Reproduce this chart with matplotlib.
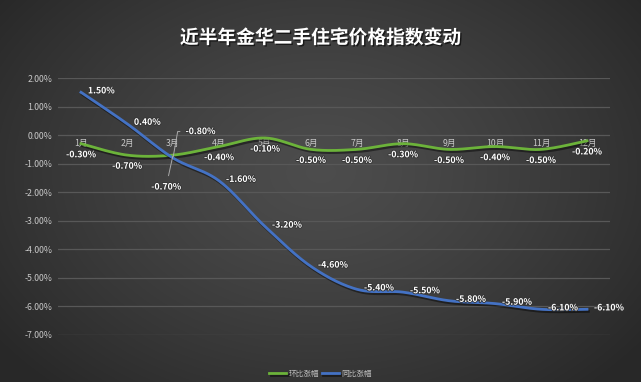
import numpy as np
import matplotlib
matplotlib.use("Agg")
import matplotlib.pyplot as plt
import matplotlib.patheffects as pe

plt.rcParams['font.family'] = ['Noto Sans CJK SC', 'DejaVu Sans']

months = ['1月', '2月', '3月', '4月', '5月', '6月', '7月', '8月', '9月', '10月', '11月', '12月']
mom = [-0.30, -0.70, -0.70, -0.40, -0.10, -0.50, -0.50, -0.30, -0.50, -0.40, -0.50, -0.20]   # 环比涨幅
yoy = [1.50, 0.40, -0.80, -1.60, -3.20, -4.60, -5.40, -5.50, -5.80, -5.90, -6.10, -6.10]      # 同比涨幅
series_names = ['环比涨幅', '同比涨幅']
yticks = [2, 1, 0, -1, -2, -3, -4, -5, -6, -7]
title = '近半年金华二手住宅价格指数变动'


def smooth(xs, ys, n=24):
    xs = np.asarray(xs, float); ys = np.asarray(ys, float)
    P = np.column_stack([xs, ys])
    P = np.vstack([P[0], P, P[-1]])
    out = []
    for i in range(1, len(P) - 2):
        p0, p1, p2, p3 = P[i - 1], P[i], P[i + 1], P[i + 2]
        t = np.linspace(0, 1, n, endpoint=False)[:, None]
        c = 0.5 * ((2 * p1) + (-p0 + p2) * t + (2 * p0 - 5 * p1 + 4 * p2 - p3) * t ** 2
                   + (-p0 + 3 * p1 - 3 * p2 + p3) * t ** 3)
        out.append(c)
    out.append(P[-2][None, :])
    out = np.vstack(out)
    return out[:, 0], out[:, 1]


W, H = 641, 382
fig = plt.figure(figsize=(W / 100, H / 100), dpi=100)

# background radial gradient
bg = fig.add_axes([0, 0, 1, 1])
yy, xx = np.mgrid[0:H, 0:W]
r = np.sqrt(((xx - W * 0.5) / (W * 0.62)) ** 2 + ((yy - H * 0.45) / (H * 0.75)) ** 2)
r = np.clip(r, 0, 1)
val = 0.30 - 0.14 * r ** 1.3
img = np.dstack([val, val, val])
bg.imshow(img, aspect='auto', extent=[0, 1, 0, 1], origin='upper')
bg.set_axis_off()

ax = fig.add_axes([58 / W, 1 - 335 / H, 552 / W, 257 / H])
ax.set_facecolor('none')
x = np.arange(len(months))
ax.set_xlim(-0.5, len(months) - 0.5)
ax.set_ylim(-7, 2)
for s in ax.spines.values():
    s.set_visible(False)
ax.set_yticks(yticks)
ax.set_yticklabels([f'{v:.2f}%' for v in yticks], color='#c8c8c8', fontsize=6.3)
ax.tick_params(axis='y', length=0, pad=4)
ax.set_xticks([])
ax.grid(False)
for v in yticks:
    ax.axhline(v, color='#585858', lw=0.9, zorder=0)

sh = [pe.SimpleLineShadow(offset=(1, -1.5), shadow_color='black', alpha=0.45), pe.Normal()]
gx, gy = smooth(x, mom)
ax.plot(gx, gy, color='#6cb33a', lw=2.0, zorder=3, path_effects=sh, label=series_names[0])
bx, by = smooth(x, yoy)
ax.plot(bx, by, color='#4472c4', lw=2.0, zorder=3, path_effects=sh, label=series_names[1])

# month labels along zero line
for i, m in enumerate(months):
    ax.annotate(m, (i, 0), xytext=(0, -6), textcoords='offset points', ha='center', va='center',
                color='#c8c8c8', fontsize=6.3, zorder=2)

lbl = dict(color='white', fontsize=6.3, fontweight='bold', zorder=5,
           path_effects=[pe.withStroke(linewidth=1.2, foreground='#333333')])
for i, v in enumerate(mom):
    if i == 2:
        ax.annotate(f'{v:.2f}%', (i, v), xytext=(-5, -23), textcoords='offset points',
                    ha='center', va='center',
                    arrowprops=dict(arrowstyle='-', color='#aaaaaa', lw=0.7, shrinkA=3, shrinkB=1), **lbl)
    else:
        ax.annotate(f'{v:.2f}%', (i, v), xytext=(0, -8), textcoords='offset points',
                    ha='center', va='center', **lbl)
for i, v in enumerate(yoy):
    if i == 2:
        ax.annotate(f'{v:.2f}%', (i, v), xytext=(9, 19), textcoords='offset points',
                    ha='left', va='center',
                    arrowprops=dict(arrowstyle='-', color='#aaaaaa', lw=0.7, shrinkA=2, shrinkB=1,
                                    connectionstyle='angle,angleA=0,angleB=80'), **lbl)
    else:
        ax.annotate(f'{v:.2f}%', (i, v), xytext=(5, 1), textcoords='offset points',
                    ha='left', va='center', **lbl)

fig.text(0.5, 1 - 38 / H, title, ha='center', va='center', color='white', fontsize=13.5,
         fontweight='bold', path_effects=[pe.withSimplePatchShadow(offset=(1, -1), shadow_rgbFace='black', alpha=0.6)])

leg = fig.legend(loc='center', bbox_to_anchor=(0.5, 1 - 374 / H), ncol=2, frameon=False,
                 fontsize=5.5, handlelength=2.2, handletextpad=0.3, columnspacing=0.4)
for t in leg.get_texts():
    t.set_color('#bbbbbb')

fig.savefig('out.png', dpi=100)
